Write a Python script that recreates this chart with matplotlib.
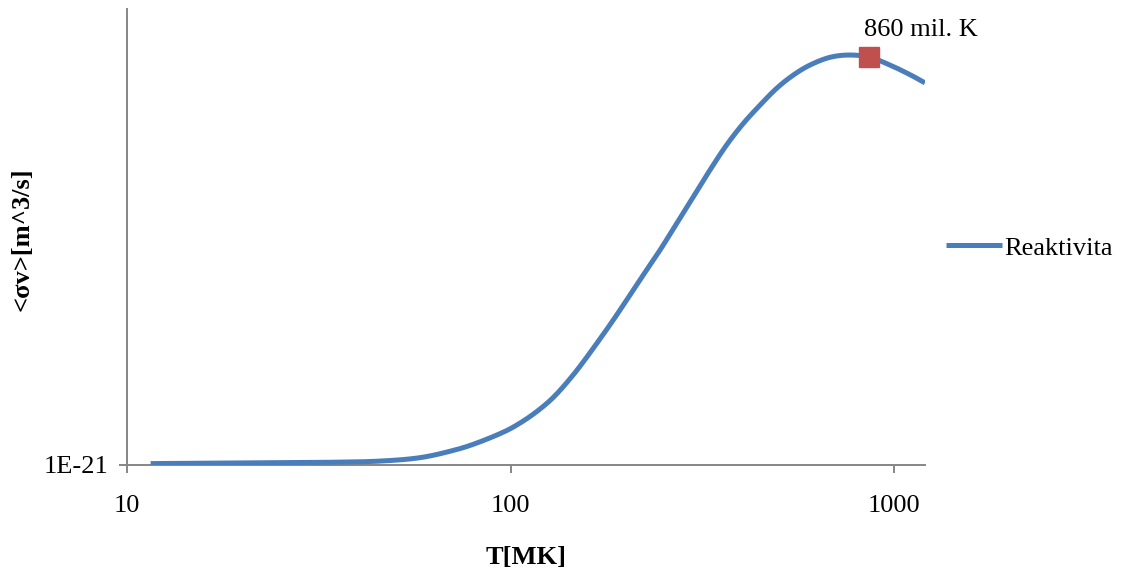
import matplotlib
matplotlib.use("Agg")
import numpy as np
import matplotlib.pyplot as plt
from matplotlib.ticker import FixedLocator, FixedFormatter, NullLocator

# Reaction rate <sigma v> versus temperature
temperature_mk = [11.5, 20.9, 34.4, 45.6, 58.0, 70.9, 81.5, 95.7, 105.8,
                  116.9, 129.1, 142.8, 157.8, 185.2, 217.4, 245.1, 271.0,
                  299.5, 331.1, 365.9, 404.4, 446.9, 494.0, 545.9, 603.5,
                  680.6, 767.4, 865.0, 975.7, 1100.0, 1203.6]
reactivity = [1.02e-21, 1.035e-21, 1.05e-21, 1.075e-21, 1.15e-21, 1.31e-21,
              1.47e-21, 1.71e-21, 1.91e-21, 2.16e-21, 2.47e-21, 2.88e-21,
              3.35e-21, 4.17e-21, 5.05e-21, 5.70e-21, 6.29e-21, 6.87e-21,
              7.46e-21, 8.01e-21, 8.48e-21, 8.88e-21, 9.25e-21, 9.54e-21,
              9.76e-21, 9.93e-21, 9.98e-21, 9.93e-21, 9.76e-21, 9.55e-21,
              9.37e-21]

peak_temperature = [860]
peak_reactivity = [9.93e-21]
peak_label = "860 mil. K"

series_name = "Reaktivita"
x_title = "T[MK]"
y_title = "<σv>[m^3/s]"
x_ticks = [10, 100, 1000]
x_tick_labels = ["10", "100", "1000"]
y_ticks = [1e-21]
y_tick_labels = ["1E-21"]


def smooth_line(x, y, steps=24):
    """Catmull-Rom smoothing through the points, done in log-x space."""
    lx = np.log10(np.asarray(x, float))
    yy = np.asarray(y, float)
    px = np.concatenate([[2 * lx[0] - lx[1]], lx, [2 * lx[-1] - lx[-2]]])
    py = np.concatenate([[2 * yy[0] - yy[1]], yy, [2 * yy[-1] - yy[-2]]])
    out_x, out_y = [], []
    t = np.linspace(0, 1, steps, endpoint=False)
    for i in range(1, len(px) - 2):
        for arr, out in ((px, out_x), (py, out_y)):
            p0, p1, p2, p3 = arr[i - 1], arr[i], arr[i + 1], arr[i + 2]
            out.extend(0.5 * (2 * p1 + (-p0 + p2) * t
                              + (2 * p0 - 5 * p1 + 4 * p2 - p3) * t ** 2
                              + (-p0 + 3 * p1 - 3 * p2 + p3) * t ** 3))
    out_x.append(lx[-1])
    out_y.append(yy[-1])
    return 10 ** np.array(out_x), np.array(out_y)


plt.rcParams["font.family"] = ["Liberation Serif", "DejaVu Serif"]
axis_grey = "#868686"

fig = plt.figure(figsize=(11.25, 5.71), dpi=100)
ax = fig.add_axes([0.1132, 0.1865, 0.7090, 0.7986])

sx, sy = smooth_line(temperature_mk, reactivity)
ax.plot(sx, sy, color="#4A7EBB", lw=3.6, solid_capstyle="butt",
        solid_joinstyle="round", label=series_name, zorder=3)
ax.plot(peak_temperature, peak_reactivity, linestyle="none", marker="s",
        markersize=14, color="#C0504D", zorder=4)
ax.annotate(peak_label, xy=(peak_temperature[0], peak_reactivity[0]),
            xytext=(-5, 27), textcoords="offset pixels",
            ha="left", va="center", fontsize=19)

ax.set_xscale("log")
ax.set_xlim(10, 1204)
ax.set_ylim(1e-21, 1.1e-20)

ax.xaxis.set_major_locator(FixedLocator(x_ticks))
ax.xaxis.set_major_formatter(FixedFormatter(x_tick_labels))
ax.xaxis.set_minor_locator(NullLocator())
ax.yaxis.set_major_locator(FixedLocator(y_ticks))
ax.yaxis.set_major_formatter(FixedFormatter(y_tick_labels))
ax.yaxis.set_minor_locator(NullLocator())

for side in ("top", "right"):
    ax.spines[side].set_visible(False)
for side in ("left", "bottom"):
    ax.spines[side].set_color(axis_grey)
    ax.spines[side].set_linewidth(1.4)

ax.tick_params(axis="both", direction="out", length=5.8, width=1.4,
               color=axis_grey, labelsize=19, labelcolor="black")
ax.tick_params(axis="x", pad=16)
ax.tick_params(axis="y", pad=8)

ax.set_xlabel(x_title, fontsize=19, fontweight="bold", labelpad=21)
ax.set_ylabel(y_title, fontsize=19, fontweight="bold")
ax.yaxis.set_label_coords(-0.118, 0.495)

ax.legend(loc="center left", bbox_to_anchor=(1.0137, 0.475), frameon=False,
          fontsize=19, handlelength=2.1, handletextpad=0.1,
          borderaxespad=0)

fig.savefig("out.png", dpi=100)
